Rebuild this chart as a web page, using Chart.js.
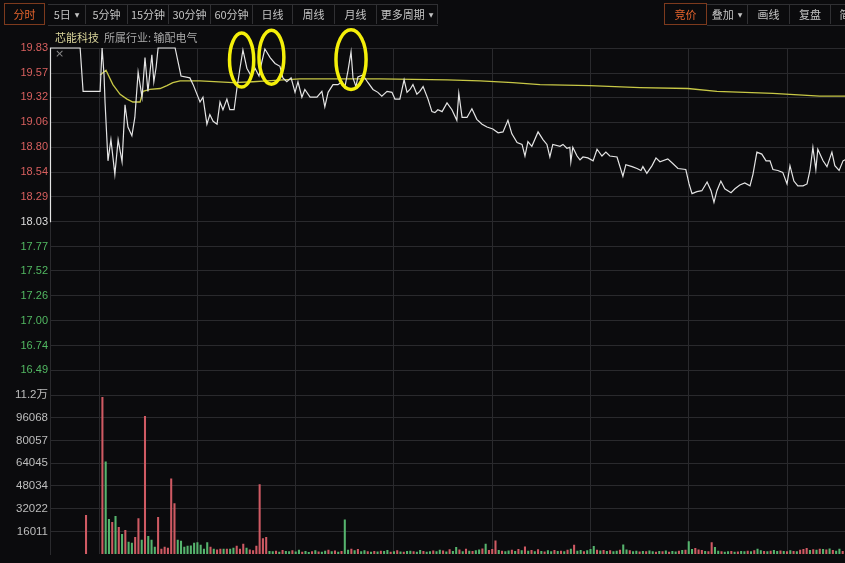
<!DOCTYPE html>
<html><head><meta charset="utf-8">
<script src="https://cdn.jsdelivr.net/npm/chart.js@4.4.1/dist/chart.umd.min.js"></script>
<style>
html,body{margin:0;padding:0;background:#0b0b0d;width:845px;height:563px;overflow:hidden;font-family:"Noto Sans CJK SC","Noto Sans",sans-serif;}
#wrap{position:relative;width:845px;height:563px;overflow:hidden;}
#c{position:absolute;left:0;top:0;}
.bar{position:absolute;top:4px;height:20px;border-top:1px solid #303033;border-bottom:1px solid #303033;}
.btn{position:absolute;top:4px;height:20px;line-height:20px;font-size:11px;color:#c4c4c4;text-align:center;border-right:1px solid #303033;box-sizing:border-box;white-space:nowrap;overflow:hidden;}
.btn.act{color:#e5632d;border:1px solid #7d3a1d;height:22px;top:3px;line-height:20px;}
.tri{font-size:6px;margin-left:4px;position:relative;top:-2px;font-family:"DejaVu Sans",sans-serif;}
#title{position:absolute;left:55px;top:29px;font-size:11px;color:#d9d49a;}
#ind{position:absolute;left:104px;top:29px;font-size:11px;color:#a9a9a9;}
#xm{position:absolute;left:55px;top:47px;font-size:11px;color:#8a8a8a;font-family:"DejaVu Sans",sans-serif;}
</style></head>
<body><div id="wrap">
<canvas id="c" width="845" height="563"></canvas>
<div class="bar" style="left:48px;width:390px"></div>
<div class="bar" style="left:707px;width:140px"></div>
<div id="tb"></div>
<div id="title">芯能科技</div>
<div id="ind">所属行业: 输配电气</div>
<div id="xm">×</div>
</div>
<script>
// ---- data ----
const priceTicks = [19.83,19.57,19.32,19.06,18.80,18.54,18.29,18.03,17.77,17.52,17.26,17.00,16.74,16.49];
const prevClose = 18.03;
const volTicks = [112079,96068,80057,64045,48034,32022,16011];
const volTickLabels = ['11.2万','96068','80057','64045','48034','32022','16011'];
const timeGrid = [0,15,45,75,105,135,165,195,225]; // minutes from 9:15

// price line: [minute from 9:15, price]
const priceLine = [[0,18.03],[0.15,19.83],[9.2,19.83],[10.1,19.38],[15.3,19.38],[15.9,19.83],[16.5,19.55],[16.8,19.27],[17.7,18.66],[18.6,18.88],[19.8,18.52],[20.8,18.88],[22.0,18.65],[22.9,19.24],[23.8,19.01],[25.0,18.92],[25.9,19.11],[26.9,19.58],[28.1,19.32],[29.0,19.73],[29.9,19.38],[31.1,19.76],[31.7,19.48],[32.4,19.63],[33.0,19.83],[38.2,19.83],[40.0,19.54],[42.7,19.52],[43.7,19.45],[45.8,19.27],[46.7,19.32],[47.9,19.04],[48.8,19.14],[49.8,19.07],[51.0,19.04],[51.9,19.27],[52.8,19.19],[54.0,19.30],[54.9,19.19],[56.2,19.19],[57.1,19.42],[58.0,19.62],[58.9,19.81],[60.1,19.62],[61.4,19.54],[62.6,19.62],[63.8,19.54],[64.7,19.69],[65.6,19.82],[67.2,19.73],[68.7,19.67],[70.2,19.64],[71.1,19.52],[72.3,19.48],[73.6,19.52],[74.8,19.37],[75.7,19.48],
[76.9,19.32],[77.8,19.40],[79.4,19.32],[81.5,19.32],[83.0,19.38],[83.9,19.22],[84.9,19.37],[86.4,19.45],[87.9,19.45],[89.1,19.48],[90.0,19.42],[91.0,19.60],[91.9,19.79],[92.5,19.52],[93.4,19.43],[94.0,19.53],[95.5,19.55],[97.1,19.47],[98.6,19.40],[100.1,19.37],[101.3,19.33],[102.9,19.38],[104.4,19.37],[105.3,19.30],[106.8,19.30],[108.1,19.50],[109.0,19.37],[109.9,19.40],[110.8,19.45],[112.0,19.35],[112.9,19.38],[113.9,19.43],[115.4,19.30],[116.6,19.17],[117.5,19.16],[118.4,19.19],[119.7,19.17],[121.2,19.26],[122.7,19.19],[124.2,19.08],[124.8,19.36],[125.8,19.11],[127.3,19.11],[128.8,19.20],[130.3,19.09],[131.9,19.04],[133.4,19.01],[135.2,18.99],[136.8,18.95],[138.3,18.96],[139.8,19.08],[141.0,18.94],[142.6,18.85],[144.1,18.83],[145.0,18.71],[145.9,18.86],[147.1,18.81],[149.0,18.96],[150.5,18.88],[151.7,18.83],[152.6,18.70],[153.5,18.83],[155.7,18.81],
[156.6,18.83],[157.8,18.79],[158.7,18.80],[159.0,18.65],[159.6,18.80],[160.9,18.71],[161.8,18.67],[162.7,18.70],[164.2,18.69],[165.8,18.66],[167.0,18.78],[168.5,18.71],[169.7,18.75],[170.9,18.71],[173.1,18.70],[174.9,18.50],[175.8,18.62],[177.7,18.60],[179.2,18.58],[180.4,18.56],[181.0,18.60],[182.2,18.53],[183.8,18.61],[185.0,18.69],[186.2,18.65],[188.6,18.68],[190.2,18.63],[191.7,18.58],[194.1,18.57],[195.1,18.42],[196.0,18.32],[197.5,18.34],[199.0,18.35],[200.6,18.44],[201.8,18.35],[202.7,18.23],[203.6,18.35],[204.8,18.45],[206.0,18.37],[207.9,18.33],[209.1,18.37],[210.6,18.41],[212.1,18.43],[213.7,18.40],[214.6,18.52],[215.8,18.75],[217.3,18.73],[218.6,18.66],[219.8,18.66],[220.7,18.57],[222.2,18.56],[223.7,18.54],[225.0,18.42],[225.9,18.61],[227.1,18.45],[228.3,18.40],[229.9,18.40],[231.1,18.42],[232.0,18.56],[232.9,18.80],[233.8,18.57],[234.4,18.78],[236.0,18.66],[237.2,18.60],[238.7,18.75],[239.6,18.61],[240.9,18.56],[242.1,18.66],[242.7,18.67]];

// average price line
const avgLine = [[15.3,19.55],[17.1,19.60],[19.2,19.45],[21.4,19.35],[23.5,19.30],[25.3,19.27],[27.5,19.27],[28.4,19.38],[30.5,19.40],[33.6,19.41],[35.7,19.44],[37.5,19.47],[39.7,19.49],[45.8,19.49],[55.9,19.47],[62.0,19.48],[66.2,19.49],[76.3,19.51],[100.7,19.51],[121.2,19.50],[131.3,19.49],[141.3,19.47],[149.6,19.45],[164.8,19.44],[180.1,19.42],[194.7,19.41],[203.6,19.38],[220.7,19.36],[235.0,19.33],[242.7,19.33]];

// auction volume bar [minute, volume, direction]
const auctionVolume = [[11, 27300, 'R']];
// per-minute volume starting at minute 16
const volumeStart = 16;
const volumes = [
110400,65000,24500,22400,26600,18900,14000,16800,8400,7700,
11900,25000,9800,97000,12600,9800,4900,25900,3500,4900,
4200,53000,35600,9800,9100,4900,5600,5900,7700,8200,
6300,3500,8200,4900,3500,3000,3500,3500,3500,3500,
4200,5600,3500,7000,4200,3000,2500,5600,49000,11000,
11900,2000,1800,2200,1500,2600,1900,1700,2400,1600,
2800,1500,2000,1300,1800,2500,1600,1400,2100,2900,
1700,2300,1500,1900,24200,2800,3600,2400,3300,1800,
2500,1700,1400,2000,1600,2200,1900,2700,1500,1800,
2400,1600,1400,1900,2200,1700,1500,2600,2000,1500,
1700,2300,1800,2800,2300,1600,3100,2000,4700,3000,
1800,3500,2200,1900,2400,3000,3800,7000,2600,3300,
9300,2600,2200,1700,2300,2800,1900,3400,2400,5100,
2200,2700,1800,3200,2000,1600,2400,1800,2600,1900,
2200,1700,2900,3600,6300,2100,2600,1800,2400,3400,
5400,2900,2300,2700,1900,2500,1800,2200,2800,6500,
3000,2400,1800,2100,1600,2000,1700,2300,1800,1500,
2000,1700,2300,1500,1900,1600,2200,2600,2800,8900,
3400,4000,3000,2600,2000,1800,8200,4700,2200,1800,
1500,1700,1900,1400,1600,2000,1700,2100,1800,2500,
3500,2400,2000,1800,2200,2600,1900,2300,2000,1800,
2400,2000,1700,2900,3300,4000,2600,3200,2800,3600,
3400,3000,3800,2600,2200,3600,2000];
const volumeDirs = [
'RGGRGRGRGG','RRGRGGGRRR','RRRGGGGGGG','GGGRGRRGRG','GRRRGRRRRR',
'RGGRGRGGRG','GRGGRGRGGR','GRGRGGRGRG','GRGRGRGGRG','RGRGGRGGRG',
'GRGGRGRGGR','GRGRGGRGRR','RGRGGRGRGR','GRGRGRGGRG','RGRGRGGRGG',
'GRGRGRGGRG','GRGGRGRGGR','GRGRGGRGRG','GRRRGRRGGR','GGRGRGGRGR',
'GGRGRGGRGR','GRGRRRGRGR','GRGRGGR'].join('');

// hand-drawn highlight circles: [minute, price, radius in minutes, radius in price]
const circleMarks = [[58.5,19.705,3.7,0.28],[67.6,19.735,3.8,0.28],[91.9,19.71,4.6,0.31]];

// ---- toolbar ----
const leftButtons = [['分时',4,45,1],['5日',48,86,0,1],['5分钟',86,128],['15分钟',128,169],['30分钟',169,211],['60分钟',211,253],['日线',253,293],['周线',293,335],['月线',335,377],['更多周期',377,438,0,1]];
const rightButtons = [['竞价',664,707,1],['叠加',707,748,0,1],['画线',748,790],['复盘',790,831],['简',831,860]];
const tb = document.getElementById('tb');
[...leftButtons, ...rightButtons].forEach(b => {
  const d = document.createElement('div');
  d.className = 'btn' + (b[3] ? ' act' : '');
  d.style.left = b[1] + 'px';
  d.style.width = (b[2] - b[1]) + 'px';
  d.innerHTML = b[0] + (b[4] ? '<span class="tri">▼</span>' : '');
  tb.appendChild(d);
});

// ---- chart ----
const GRID = '#2a2a2d';
const RED = '#cf5a63', GREEN = '#56b46e';
const volData = auctionVolume.map(v => ({x: v[0], y: v[1]}))
  .concat(volumes.map((v, i) => ({x: volumeStart + i, y: v})));
const volColors = auctionVolume.map(v => v[2] === 'R' ? RED : GREEN)
  .concat(volumes.map((v, i) => volumeDirs[i] === 'R' ? RED : GREEN));

const circlePlugin = {
  id: 'circles',
  afterDraw(chart) {
    const x = chart.scales.x, y = chart.scales.yPrice, ctx = chart.ctx;
    ctx.save();
    ctx.strokeStyle = '#f4ef0a';
    ctx.lineWidth = 3.5;
    circleMarks.forEach(c => {
      const cx = x.getPixelForValue(c[0]), cy = y.getPixelForValue(c[1]);
      const rx = x.getPixelForValue(c[0] + c[2]) - cx;
      const ry = cy - y.getPixelForValue(c[1] + c[3]);
      ctx.beginPath();
      ctx.ellipse(cx, cy, rx, ry, 0, 0, Math.PI * 2);
      ctx.stroke();
    });
    ctx.restore();
  }
};

const tickFont = {family: 'Arial, "Liberation Sans", "Noto Sans CJK SC", sans-serif', size: 11};
new Chart(document.getElementById('c'), {
  type: 'line',
  data: {
    datasets: [
      {type: 'line', label: '价格', data: priceLine.map(p => ({x: p[0], y: p[1]})), yAxisID: 'yPrice', xAxisID: 'x',
       borderColor: '#e4e4e4', borderWidth: 1.2, pointRadius: 0, tension: 0, clip: 6},
      {type: 'line', label: '均价', data: avgLine.map(p => ({x: p[0], y: p[1]})), yAxisID: 'yPrice', xAxisID: 'x',
       borderColor: '#c8c846', borderWidth: 1.3, pointRadius: 0, tension: 0, clip: 6},
      {type: 'bar', label: '成交量', data: volData, yAxisID: 'yVol', xAxisID: 'x',
       backgroundColor: volColors, barThickness: 1.4, borderWidth: 0}
    ]
  },
  options: {
    responsive: false, animation: false, devicePixelRatio: 1,
    layout: {padding: {left: 0, right: 0, top: 48, bottom: 5}},
    plugins: {legend: {display: false}, tooltip: {enabled: false}},
    scales: {
      x: {type: 'linear', min: 0, max: 242.7, offset: false,
          grid: {color: GRID, drawTicks: false, offset: false}, border: {display: false},
          ticks: {display: false, autoSkip: false},
          afterBuildTicks: s => { s.ticks = timeGrid.map(v => ({value: v})); }},
      yVol: {type: 'linear', position: 'left', stack: 'panes', stackWeight: 170, weight: 0,
          min: 0, max: 118860,
          grid: {color: GRID, drawTicks: false}, border: {display: true, color: GRID},
          ticks: {font: {...tickFont, size: 11.5}, color: '#bdbdbd', padding: 2, autoSkip: false,
                  callback: (v) => { const i = volTicks.indexOf(v); return i >= 0 ? volTickLabels[i] : ''; }},
          afterBuildTicks: s => { s.ticks = volTicks.map(v => ({value: v})); },
          afterFit: s => { s.width = 50; }},
      yPrice: {type: 'linear', position: 'left', stack: 'panes', stackWeight: 340, weight: 1,
          min: 16.331, max: 19.83,
          grid: {color: GRID, drawTicks: false}, border: {display: true, color: GRID},
          ticks: {font: tickFont, padding: 2, autoSkip: false,
                  color: c => { const v = c.tick.value; return Math.abs(v - prevClose) < 0.001 ? '#dedede' : (v > prevClose ? '#d8605f' : '#52b862'); },
                  callback: v => v.toFixed(2)},
          afterBuildTicks: s => { s.ticks = priceTicks.map(v => ({value: v})); },
          afterFit: s => { s.width = 50; }}
    }
  },
  plugins: [circlePlugin]
});
</script>
</body></html>
